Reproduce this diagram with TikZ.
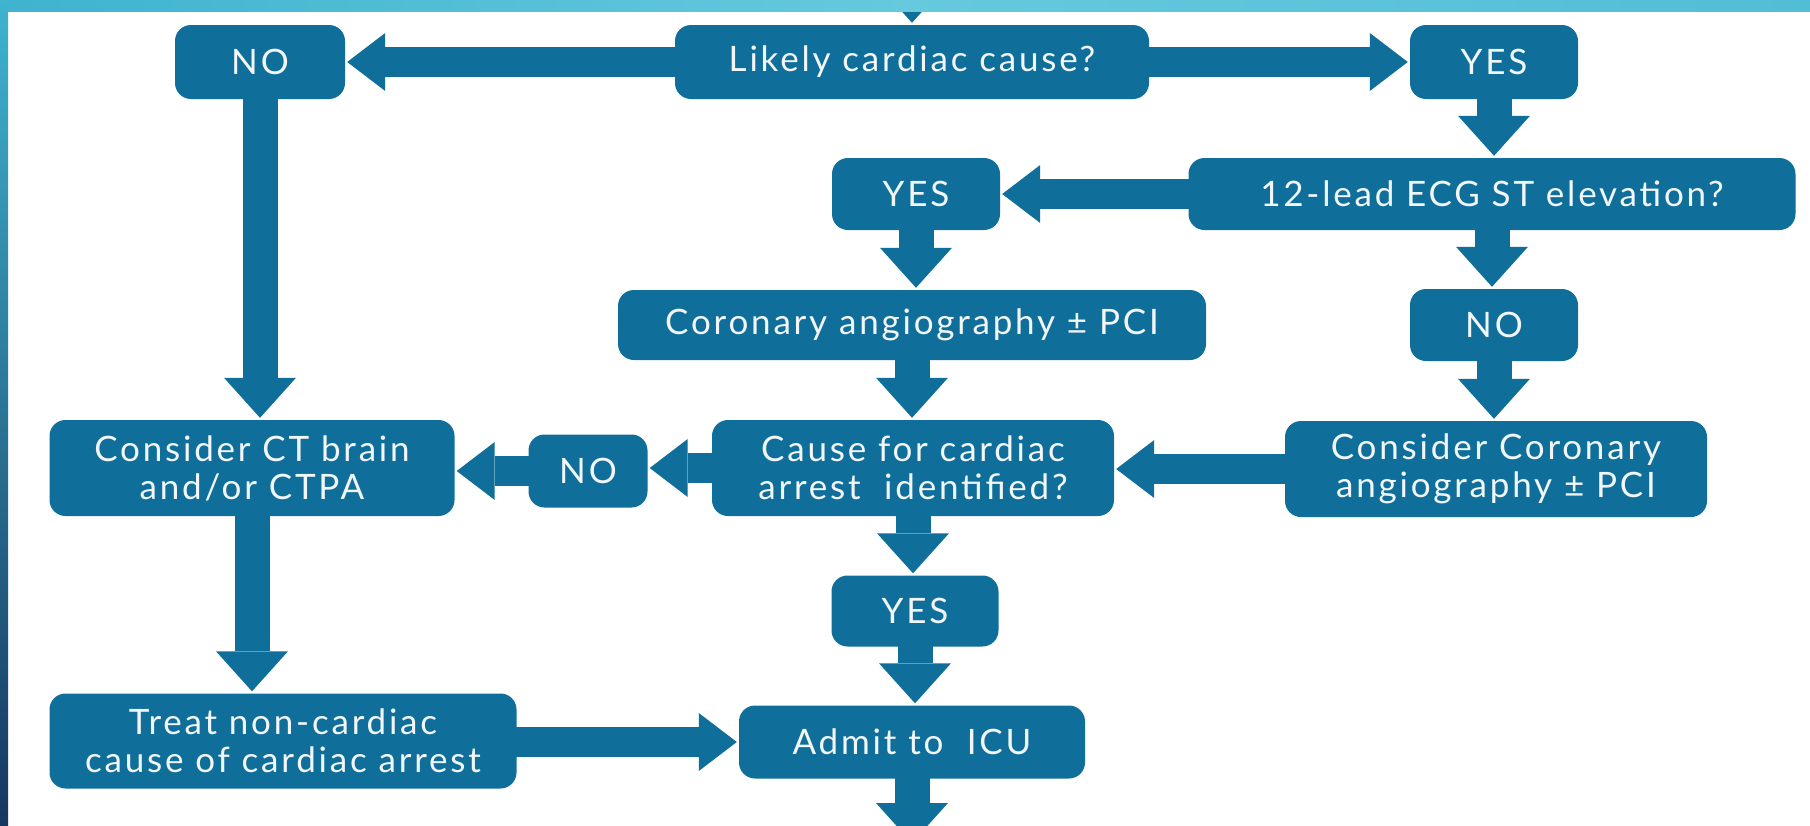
\documentclass[tikz,border=0pt]{standalone}
\usepackage{fontspec}
\setmainfont{Lato}[LetterSpace=8]
\usetikzlibrary{arrows.meta}
\definecolor{boxblue}{HTML}{0F6F9A}
\definecolor{boxtext}{HTML}{F2F6F8}
\definecolor{barlight}{HTML}{3FB3CF}
\definecolor{barmid}{HTML}{66C9DE}
\definecolor{barright}{HTML}{52BDD6}
\definecolor{bardark}{HTML}{163760}
\begin{document}
\begin{tikzpicture}[x=1pt,y=-1pt,
  box/.style={fill=boxblue, rounded corners=16pt, text=boxtext, align=center,
    inner sep=0pt, font=\fontsize{35}{38}\selectfont},
  sz/.style 2 args={minimum width=#1pt, minimum height=#2pt},
  vflow/.style={draw=boxblue, line width=35pt,
    -{Triangle[width=72pt,length=40pt,line width=0pt]},
    shorten >=2pt, shorten <=-2pt},
  hflow/.style={draw=boxblue, line width=30pt,
    -{Triangle[width=58pt,length=38pt,line width=0pt]},
    shorten >=2pt, shorten <=-2pt}]
\useasboundingbox (0,0) rectangle (1810,825);
\clip (0,0) rectangle (1810,825);
\fill[white] (0,0) rectangle (1810,825);

% decision and action boxes
\node[box, sz={474}{74}] (a) at (912,62) {Likely cardiac cause?};
\node[box, sz={170}{74}] (no1) at (260,62) {NO};
\node[box, sz={168}{74}] (yes1) at (1494,62) {YES};
\node[box, sz={607}{72}] (b) at (1492,194) {12-lead ECG ST elevation?};
\node[box, sz={168}{72}] (yes2) at (916,194) {YES};
\node[box, sz={588}{70}] (c) at (912,325) {Coronary angiography ± PCI};
\node[box, sz={168}{72}] (no2) at (1494,325) {NO};
\node[box, sz={402}{96}] (d) at (913,468) {Cause for cardiac\\arrest\ \ identified?};
\node[box, sz={422}{96}] (e) at (1496,469) {Consider Coronary\\angiography ± PCI};
\node[box, sz={119}{73}] (no3) at (588,471) {NO};
\node[box, sz={405}{96}] (f) at (252,468) {Consider CT brain\\and/or CTPA};
\node[box, sz={167}{71}] (yes3) at (915,611) {YES};
\node[box, sz={346}{73}] (g) at (912,742) {Admit to\ \ ICU};
\node[box, sz={467}{95}] (h) at (283,741) {Treat non-cardiac\\cause of cardiac arrest};

\coordinate (in) at (912,-60);
\coordinate (out) at (912,845);

% connectors
\draw[vflow] (in) -- (a.north);
\draw[hflow] (a.west) -- (no1.east);
\draw[hflow] (a.east) -- (yes1.west);
\draw[vflow] (yes1.south) -- (yes1.south |- b.north);
\draw[hflow] (b.west) -- (yes2.east);
\draw[vflow] (yes2.south) -- (yes2.south |- c.north);
\draw[vflow] (b.south) -- (b.south |- no2.north);
\draw[vflow] (c.south) -- (c.south |- d.north);
\draw[vflow] (no2.south) -- (no2.south |- e.north);
\draw[hflow] (e.west) -- (e.west -| d.east);
\draw[hflow] (d.west) -- (d.west -| no3.east);
\draw[hflow] (no3.west) -- (no3.west -| f.east);
\draw[vflow] (no1.south) -- (no1.south |- f.north);
\draw[vflow] (d.south) -- (d.south |- yes3.north);
\draw[vflow] (yes3.south) -- (yes3.south |- g.north);
\draw[vflow] (f.south) -- (f.south |- h.north);
\draw[hflow] (h.east |- g.west) -- (g.west);
\draw[vflow] (g.south) -- (out);

% slide frame bars
\shade[left color=barlight, right color=barright, middle color=barmid]
  (0,0) rectangle (1810,11);
\shade[top color=barlight, bottom color=bardark] (0,0) rectangle (8,825);
\end{tikzpicture}
\end{document}
